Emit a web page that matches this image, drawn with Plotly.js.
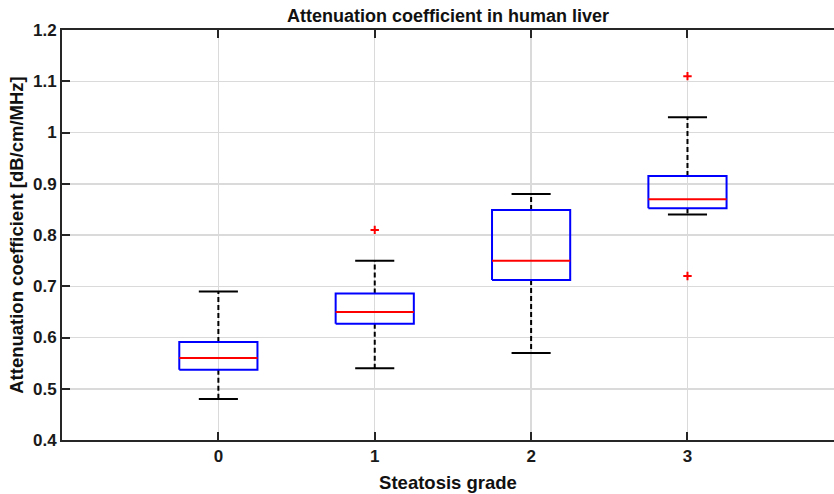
<!DOCTYPE html>
<html>
<head>
<meta charset="utf-8">
<script src="https://cdn.plot.ly/plotly-3.0.1.min.js"></script>
<style>html,body{margin:0;padding:0;background:#fff;}#chart{width:834px;height:494px;}</style>
</head>
<body>
<div id="chart"></div>
<script>
// Data
var grades = [0, 1, 2, 3];
var lowerWhisker = [0.48, 0.54, 0.57, 0.84];
var q1 = [0.537, 0.627, 0.712, 0.852];
var median = [0.56, 0.65, 0.75, 0.87];
var q3 = [0.591, 0.686, 0.849, 0.915];
var upperWhisker = [0.69, 0.75, 0.88, 1.03];
var outlierGrade = [1, 3, 3];
var outlierValue = [0.81, 0.72, 1.11];
var tickLabels = ['0', '1', '2', '3'];
var yTicks = [0.4, 0.5, 0.6, 0.7, 0.8, 0.9, 1, 1.1, 1.2];
var yTickLabels = ['0.4', '0.5', '0.6', '0.7', '0.8', '0.9', '1', '1.1', '1.2'];

var boxHalf = 0.25, capHalf = 0.125;

var bx = [], by = [], mx = [], my = [], wx = [], wy = [], cx = [], cy = [];
grades.forEach(function (g, i) {
  bx.push(g - boxHalf, g + boxHalf, g + boxHalf, g - boxHalf, g - boxHalf, null);
  by.push(q1[i], q1[i], q3[i], q3[i], q1[i], null);
  mx.push(g - boxHalf, g + boxHalf, null);
  my.push(median[i], median[i], null);
  wx.push(g, g, null, g, g, null);
  wy.push(q3[i], upperWhisker[i], null, q1[i], lowerWhisker[i], null);
  cx.push(g - capHalf, g + capHalf, null, g - capHalf, g + capHalf, null);
  cy.push(upperWhisker[i], upperWhisker[i], null, lowerWhisker[i], lowerWhisker[i], null);
});

var traces = [
  {x: wx, y: wy, mode: 'lines', line: {color: '#000000', width: 2, dash: '5px,3px'}, hoverinfo: 'skip'},
  {x: cx, y: cy, mode: 'lines', line: {color: '#000000', width: 2}, hoverinfo: 'skip'},
  {x: bx, y: by, mode: 'lines', line: {color: '#0000ff', width: 2}, hoverinfo: 'skip'},
  {x: mx, y: my, mode: 'lines', line: {color: '#ff0000', width: 2}, hoverinfo: 'skip'},
  {x: outlierGrade, y: outlierValue, mode: 'markers',
   marker: {symbol: 'cross-thin', size: 6, line: {color: '#ff0000', width: 2}, color: '#ff0000'}, hoverinfo: 'skip'}
];

var font = {family: 'Liberation Sans, Arial, sans-serif', color: '#1a1a1a'};

var layout = {
  width: 834, height: 494,
  margin: {l: 62, r: 0, t: 30, b: 54},
  paper_bgcolor: '#ffffff', plot_bgcolor: '#ffffff',
  showlegend: false,
  font: font,
  title: {text: '<b>Attenuation coefficient in human liver</b>', x: 0.5, xref: 'paper', xanchor: 'center',
          y: 1, yref: 'paper', yanchor: 'bottom', pad: {b: 8},
          font: {family: font.family, size: 18, color: '#111111'}},
  xaxis: {
    range: [-1, 3.937],
    tickmode: 'array', tickvals: grades, ticktext: tickLabels.map(function (t) { return '<b>' + t + '</b>'; }),
    ticks: 'inside', ticklen: 8, tickwidth: 2, tickcolor: '#262626',
    showline: true, linecolor: '#262626', linewidth: 2, mirror: 'ticks',
    showgrid: true, gridcolor: '#dadada', gridwidth: 1.5, zeroline: false,
    tickfont: {family: font.family, size: 17, color: '#1a1a1a'},
    title: {text: '<b>Steatosis grade</b>', standoff: 11, font: {family: font.family, size: 18.5, color: '#111111'}},
    fixedrange: true
  },
  yaxis: {
    range: [0.4, 1.2],
    tickmode: 'array', tickvals: yTicks, ticktext: yTickLabels.map(function (t) { return '<b>' + t + '</b>'; }),
    ticks: 'inside', ticklen: 8, tickwidth: 2, tickcolor: '#262626',
    showline: true, linecolor: '#262626', linewidth: 2, mirror: false,
    showgrid: true, gridcolor: '#dadada', gridwidth: 1.5, zeroline: false,
    tickfont: {family: font.family, size: 17, color: '#1a1a1a'},
    title: {text: '<b>Attenuation coefficient [dB/cm/MHz]</b>', standoff: 4, font: {family: font.family, size: 18.5, color: '#111111'}},
    fixedrange: true
  }
};

Plotly.newPlot('chart', traces, layout, {displayModeBar: false, staticPlot: true});
</script>
</body>
</html>
